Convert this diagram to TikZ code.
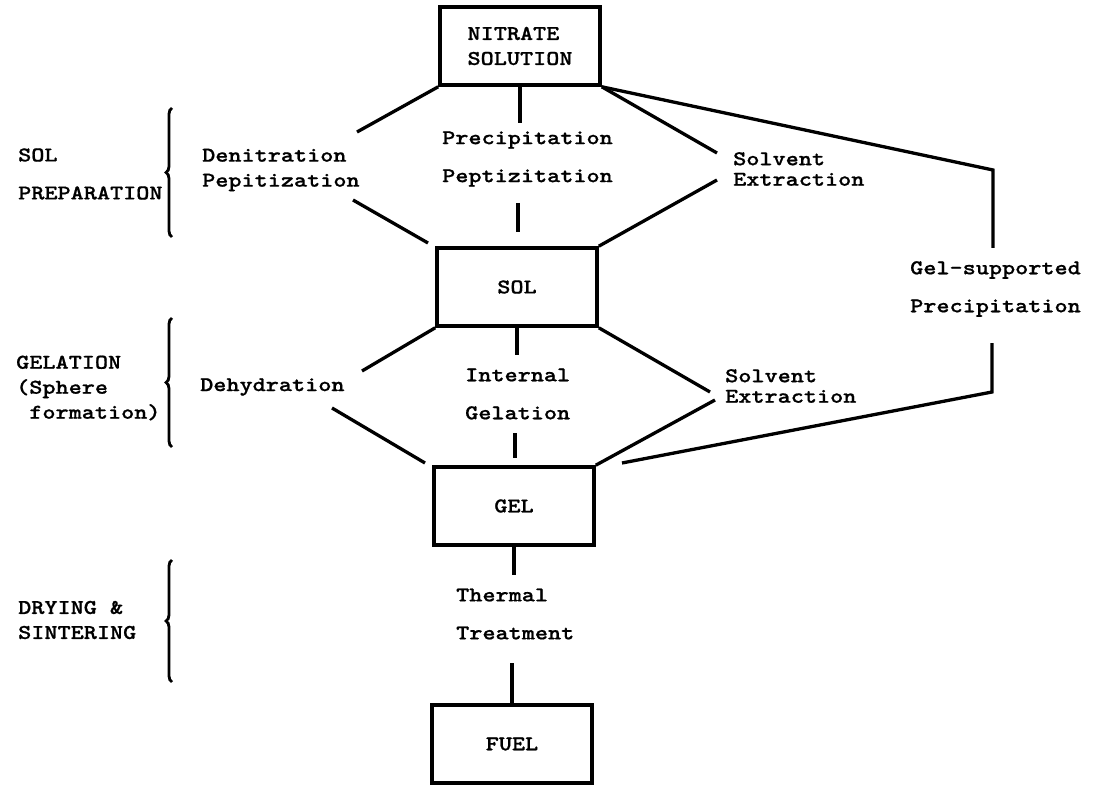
\documentclass[tikz,border=0pt]{standalone}
\usepackage{fontspec}
\newfontfamily\typewriter{lmmonolt10-bold.otf}[FakeStretch=1.19, FakeBold=0.8]
\usetikzlibrary{decorations.pathreplacing}
\newcommand{\typeface}{\typewriter\fontsize{21}{25}\selectfont}
\newcommand{\typewide}{\typewriter\fontsize{21}{38}\selectfont}
\newcommand{\typeclose}{\typewriter\fontsize{21}{20.5}\selectfont}
\tikzset{
  stagebox/.style={draw, line width=3.6pt, minimum width=160pt, minimum height=78pt,
    inner sep=0pt, align=left, font=\typeface},
  link/.style={line width=3.3pt},
  lbl/.style={anchor=west, align=left, inner sep=0pt, font=\typeface},
  lblwide/.style={lbl, font=\typewide},
  lblclose/.style={lbl, font=\typeclose},
  bracket/.style={line width=2.8pt, decorate, decoration={brace, amplitude=6pt}}
}
\begin{document}
\begin{tikzpicture}[x=1pt, y=-1pt]
\useasboundingbox (0,0) rectangle (1097,786);

% main stages
\node[stagebox] (nitrate) at (520,46) {NITRATE\\SOLUTION};
\node[stagebox] (sol) at (517,287) {SOL};
\node[stagebox] (gel) at (514,506) {GEL};
\node[stagebox] (fuel) at (512,744) {FUEL};

% process routes
\node[lbl] (denit) at (202,170) {Denitration\\Pepitization};
\node[lblwide] (precip) at (442,159) {Precipitation\\Peptizitation};
\node[lblclose] (solvA) at (733,169) {Solvent\\Extraction};
\node[lblwide] (gelsup) at (910,289) {Gel-supported\\Precipitation};
\node[lbl] (dehyd) at (200,387) {Dehydration};
\node[lblwide] (internal) at (465,394) {Internal\\Gelation};
\node[lblclose] (solvB) at (725,386) {Solvent\\Extraction};
\node[lblwide] (thermal) at (456,614) {Thermal\\Treatment};

% stage captions on the left
\node[lblwide] (solprep) at (18,174) {SOL\\PREPARATION};
\node[lbl] (gelation) at (16,388) {GELATION\\(Sphere\\\hphantom{(}formation)};
\node[lbl] (drying) at (18,620) {DRYING \&\\SINTERING};

% free ends of the connectors
\coordinate (a1) at (357,132);
\coordinate (a2) at (520,123);
\coordinate (a3) at (717,153);
\coordinate (a4) at (993,170);
\coordinate (a5) at (993,248);
\coordinate (b1) at (353,200);
\coordinate (b2) at (428,243);
\coordinate (b3) at (518,203);
\coordinate (b4) at (518,232);
\coordinate (b5) at (717,180);
\coordinate (c1) at (362,371);
\coordinate (c2) at (517,355);
\coordinate (c3) at (710,392);
\coordinate (d1) at (332,408);
\coordinate (d2) at (425,463);
\coordinate (d3) at (515,433);
\coordinate (d4) at (515,458);
\coordinate (d5) at (715,400);
\coordinate (e1) at (992,343);
\coordinate (e2) at (992,392);
\coordinate (e3) at (622,463);
\coordinate (f1) at (514,575);
\coordinate (g1) at (512,663);

% connectors
\draw[link] (nitrate.south west) -- (a1);
\draw[link] (nitrate.south) -- (a2);
\draw[link] (nitrate.south east) -- (a3);
\draw[link] (nitrate.south east) -- (a4) -- (a5);
\draw[link] (b1) -- (b2);
\draw[link] (b3) -- (b4);
\draw[link] (b5) -- (sol.north east);
\draw[link] (sol.south west) -- (c1);
\draw[link] (sol.south) -- (c2);
\draw[link] (sol.south east) -- (c3);
\draw[link] (d1) -- (d2);
\draw[link] (d3) -- (d4);
\draw[link] (d5) -- (gel.north east);
\draw[link] (e1) -- (e2) -- (e3);
\draw[link] (gel.south) -- (f1);
\draw[link] (g1) -- (fuel.north);

% braces grouping the stages
\draw[bracket] (172,237) -- (172,108);
\draw[bracket] (172,447) -- (172,318);
\draw[bracket] (172,682) -- (172,560);
\end{tikzpicture}
\end{document}
